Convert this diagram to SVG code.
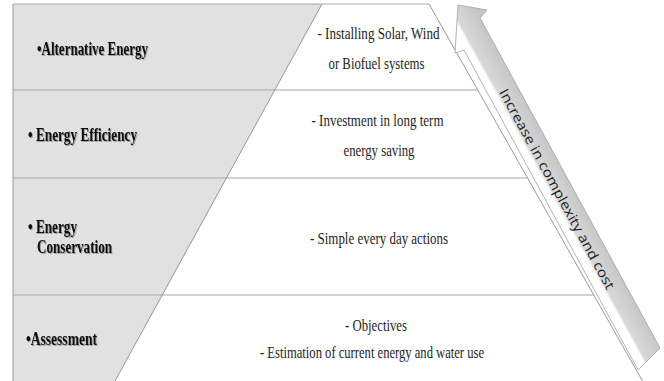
<svg xmlns="http://www.w3.org/2000/svg" width="664" height="381" viewBox="0 0 664 381">
  <style>
    .frame { stroke: #a8a8a8; stroke-width: 1.2; fill: none; }
    .edge { stroke: #8c8c8c; stroke-width: 0.9; fill: none; }
    .label { font-family: "Liberation Serif", "Times New Roman", serif; font-weight: bold; font-size: 18.5px; fill: #111; }
    .desc { font-family: "Liberation Serif", "Times New Roman", serif; font-size: 17.5px; fill: #1e1e1e; text-anchor: middle; }
    .arrow-text { font-family: "Open Sans", "Liberation Sans", sans-serif; font-size: 13.5px; fill: #1e1e1e; text-anchor: middle; }
  </style>
  <defs>
    <filter id="soft-shadow" x="-5%" y="-20%" width="110%" height="140%">
      <feDropShadow dx="1" dy="1" stdDeviation="0.6" flood-color="#000" flood-opacity="0.3"/>
    </filter>
    <linearGradient id="shaft-fill" gradientUnits="userSpaceOnUse" x1="546" y1="200" x2="575" y2="184">
      <stop offset="0" stop-color="#ffffff"/>
      <stop offset="0.22" stop-color="#ffffff"/>
      <stop offset="0.3" stop-color="#d8d8d8"/>
      <stop offset="1" stop-color="#c4c4c4"/>
    </linearGradient>
  </defs>

  <rect width="664" height="381" fill="#ffffff"/>

  <!-- shaded label column, cut by the pyramid's left side -->
  <polygon points="13,4 322,4 115,381 13,381" fill="#e1e1e1"/>

  <!-- outline and tier dividers -->
  <g id="structure">
    <line class="frame" x1="13" y1="4" x2="13" y2="381"/>
    <line class="frame" x1="13" y1="4" x2="429" y2="4"/>
    <line class="frame" x1="13" y1="90" x2="477.7" y2="90"/>
    <line class="frame" x1="13" y1="178" x2="527.5" y2="178"/>
    <line class="frame" x1="13" y1="295" x2="593.8" y2="295"/>
    <line class="edge" x1="322" y1="4" x2="115" y2="381"/>
    <line class="edge" x1="429" y1="4" x2="642.5" y2="381"/>
  </g>

  <g id="tier-alternative">
    <text class="label" x="37" y="55" textLength="111" lengthAdjust="spacingAndGlyphs" filter="url(#soft-shadow)">•Alternative Energy</text>
    <text class="desc" x="378.5" y="38.5" textLength="122" lengthAdjust="spacingAndGlyphs">- Installing Solar, Wind</text>
    <text class="desc" x="376.5" y="68.5" textLength="96" lengthAdjust="spacingAndGlyphs">or Biofuel systems</text>
  </g>

  <g id="tier-efficiency">
    <text class="label" x="28" y="141" textLength="109" lengthAdjust="spacingAndGlyphs" filter="url(#soft-shadow)">• Energy Efficiency</text>
    <text class="desc" x="377.5" y="125.5" textLength="132" lengthAdjust="spacingAndGlyphs">- Investment in long term</text>
    <text class="desc" x="379" y="156" textLength="71" lengthAdjust="spacingAndGlyphs">energy saving</text>
  </g>

  <g id="tier-conservation">
    <text class="label" x="28" y="233" textLength="49" lengthAdjust="spacingAndGlyphs" filter="url(#soft-shadow)">• Energy</text>
    <text class="label" x="37" y="253" textLength="75" lengthAdjust="spacingAndGlyphs" filter="url(#soft-shadow)">Conservation</text>
    <text class="desc" x="379" y="243.5" textLength="138" lengthAdjust="spacingAndGlyphs">- Simple every day actions</text>
  </g>

  <g id="tier-assessment">
    <text class="label" x="26" y="345" textLength="71" lengthAdjust="spacingAndGlyphs" filter="url(#soft-shadow)">•Assessment</text>
    <text class="desc" x="376" y="330.5" textLength="62" lengthAdjust="spacingAndGlyphs">- Objectives</text>
    <text class="desc" x="372" y="357.5" textLength="224" lengthAdjust="spacingAndGlyphs">- Estimation of current energy and water use</text>
  </g>

  <!-- rising arrow alongside the pyramid -->
  <g id="arrow">
    <polygon points="458,5 487,10 480,18 660,348 638,370 464,50 455,53" fill="url(#shaft-fill)" stroke="#a0a0a0" stroke-width="0.8" stroke-linejoin="miter"/>
    <text class="arrow-text" transform="translate(557,189) rotate(61.4)" x="0" y="4.8" textLength="226" lengthAdjust="spacingAndGlyphs">Increase in complexity and cost</text>
  </g>
</svg>
